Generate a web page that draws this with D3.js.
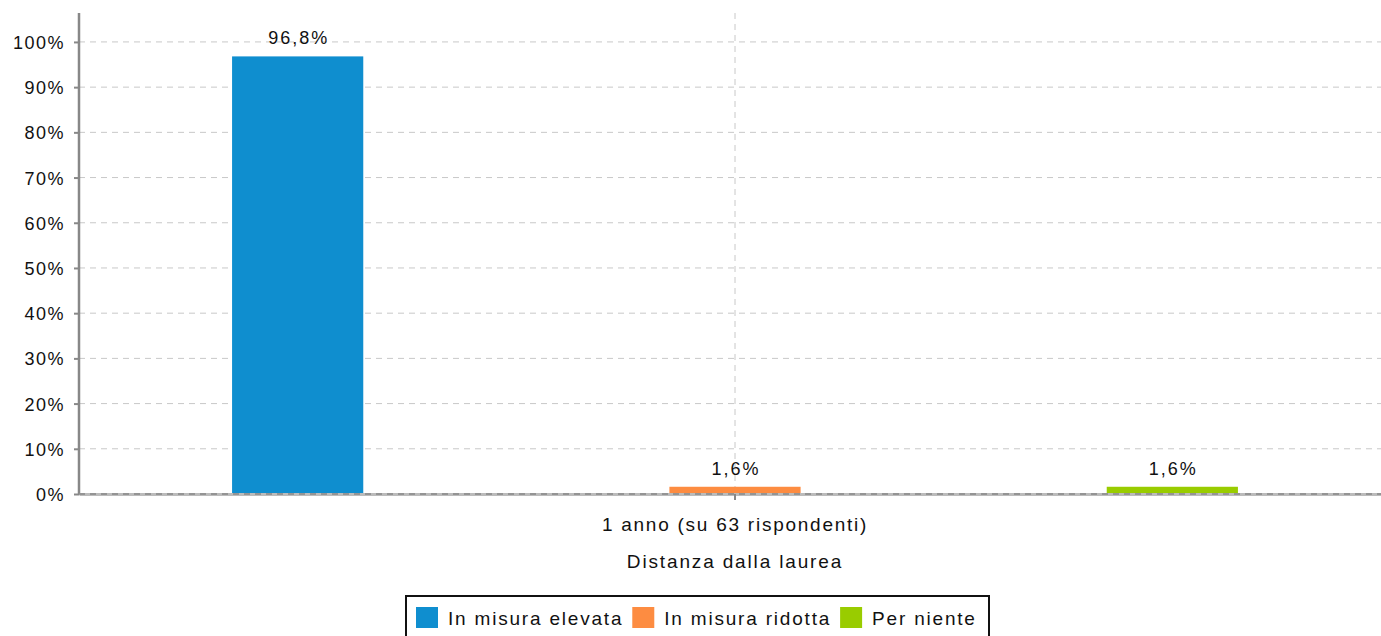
<!DOCTYPE html>
<html>
<head>
<meta charset="utf-8">
<script src="https://cdn.jsdelivr.net/npm/d3@7"></script>
<style>
  body { margin: 0; background: #fff; }
  svg { font-family: "Liberation Sans", Arial, sans-serif; }
</style>
</head>
<body>
<div id="chart"></div>
<script>
const categories = ["1 anno (su 63 rispondenti)"];
const series = ["In misura elevata", "In misura ridotta", "Per niente"];
const values = [96.8, 1.6, 1.6];
const colors = ["#0f8ecf", "#fd8c41", "#99cc00"];
const yTicks = [0, 10, 20, 30, 40, 50, 60, 70, 80, 90, 100];

const W = 1381, H = 636;
const margin = {top: 13, left: 79, right: -10, bottom: 142};
const width = W - margin.left - margin.right;
const height = H - margin.top - margin.bottom;

const svg = d3.select("#chart").append("svg")
  .attr("width", W).attr("height", H);

const g = svg.append("g")
  .attr("transform", "translate(" + margin.left + "," + margin.top + ")");

const y = d3.scaleLinear().domain([0, 106.4]).range([height, 0]);
const x0 = d3.scaleBand().domain(categories).range([0, width]);
const x1 = d3.scaleBand().domain(series).range([0, x0.bandwidth()]).paddingInner(0.7).paddingOuter(0.35);

// horizontal grid
g.selectAll(".hgrid").data(yTicks).enter().append("line")
  .attr("x1", 0).attr("x2", width)
  .attr("y1", d => y(d)).attr("y2", d => y(d))
  .attr("stroke", "#c8c8c8").attr("stroke-dasharray", "6,5");

// vertical grid at category center
g.selectAll(".vgrid").data(categories).enter().append("line")
  .attr("x1", d => x0(d) + x0.bandwidth() / 2).attr("x2", d => x0(d) + x0.bandwidth() / 2)
  .attr("y1", 0).attr("y2", height)
  .attr("stroke", "#c8c8c8").attr("stroke-dasharray", "6,5");

// bars
const grp = g.selectAll(".grp").data(categories).enter().append("g")
  .attr("transform", d => "translate(" + x0(d) + ",0)");

grp.selectAll("rect").data(series.map((s, i) => ({s: s, v: values[i], c: colors[i]})))
  .enter().append("rect")
  .attr("x", d => x1(d.s))
  .attr("y", d => y(d.v))
  .attr("width", x1.bandwidth())
  .attr("height", d => height - y(d.v))
  .attr("fill", d => d.c);

grp.selectAll(".lbl").data(series.map((s, i) => ({s: s, v: values[i]})))
  .enter().append("text")
  .attr("x", d => x1(d.s) + x1.bandwidth() / 2 + 1)
  .attr("y", d => y(d.v) - 12)
  .attr("text-anchor", "middle")
  .style("font-size", "18px").style("letter-spacing", "2px")
  .attr("fill", "#111")
  .text(d => d.v.toFixed(1).replace(".", ",") + "%");

// y axis
const yAxis = g.append("g")
  .call(d3.axisLeft(y).tickValues(yTicks).tickSize(5).tickFormat(d => d + "%"));
yAxis.select(".domain").remove();
yAxis.selectAll(".tick line").attr("stroke", "#888").attr("stroke-width", 2).attr("x1", -5).attr("x2", 0);
yAxis.selectAll("text").style("font-size", "18px").style("letter-spacing", "1.5px")
  .attr("fill", "#111").attr("x", -14).attr("dy", "0.36em");
g.append("line").attr("x1", 0).attr("x2", 0).attr("y1", 0).attr("y2", height)
  .attr("stroke", "#888").attr("stroke-width", 2.5);

// x axis
const xAxis = g.append("g").attr("transform", "translate(0," + height + ")")
  .call(d3.axisBottom(x0).tickSize(6).tickSizeOuter(0));
xAxis.select(".domain").attr("stroke", "#bbb").attr("stroke-width", 3);
xAxis.selectAll(".tick line").attr("stroke", "#888").attr("stroke-width", 2);
xAxis.selectAll("text").style("font-size", "19px").style("letter-spacing", "1.75px")
  .attr("fill", "#111").attr("y", 37).attr("dy", 0);
g.append("line").attr("x1", 0).attr("x2", width).attr("y1", height).attr("y2", height)
  .attr("stroke", "#888").attr("stroke-width", 1.5).attr("stroke-dasharray", "6,5");

// axis title
svg.append("text")
  .attr("x", margin.left + x0(categories[0]) + x0.bandwidth() / 2)
  .attr("y", 568)
  .attr("text-anchor", "middle")
  .style("font-size", "19px").style("letter-spacing", "1.85px")
  .attr("fill", "#111")
  .text("Distanza dalla laurea");

// legend
const legend = svg.append("g").attr("transform", "translate(406,596)");
legend.append("rect").attr("x", 0).attr("y", 0).attr("width", 583).attr("height", 50)
  .attr("fill", "#fff").attr("stroke", "#111").attr("stroke-width", 2);
let lx = 10;
series.forEach((s, i) => {
  const it = legend.append("g").attr("transform", "translate(" + lx + ",0)");
  it.append("rect").attr("x", 0).attr("y", 11).attr("width", 22).attr("height", 21).attr("fill", colors[i]);
  const t = it.append("text").attr("x", 32).attr("y", 29)
    .style("font-size", "19px").style("letter-spacing", "1.8px")
    .attr("fill", "#111").text(s);
  lx += 32 + t.node().getComputedTextLength() + 9;
});
</script>
</body>
</html>
